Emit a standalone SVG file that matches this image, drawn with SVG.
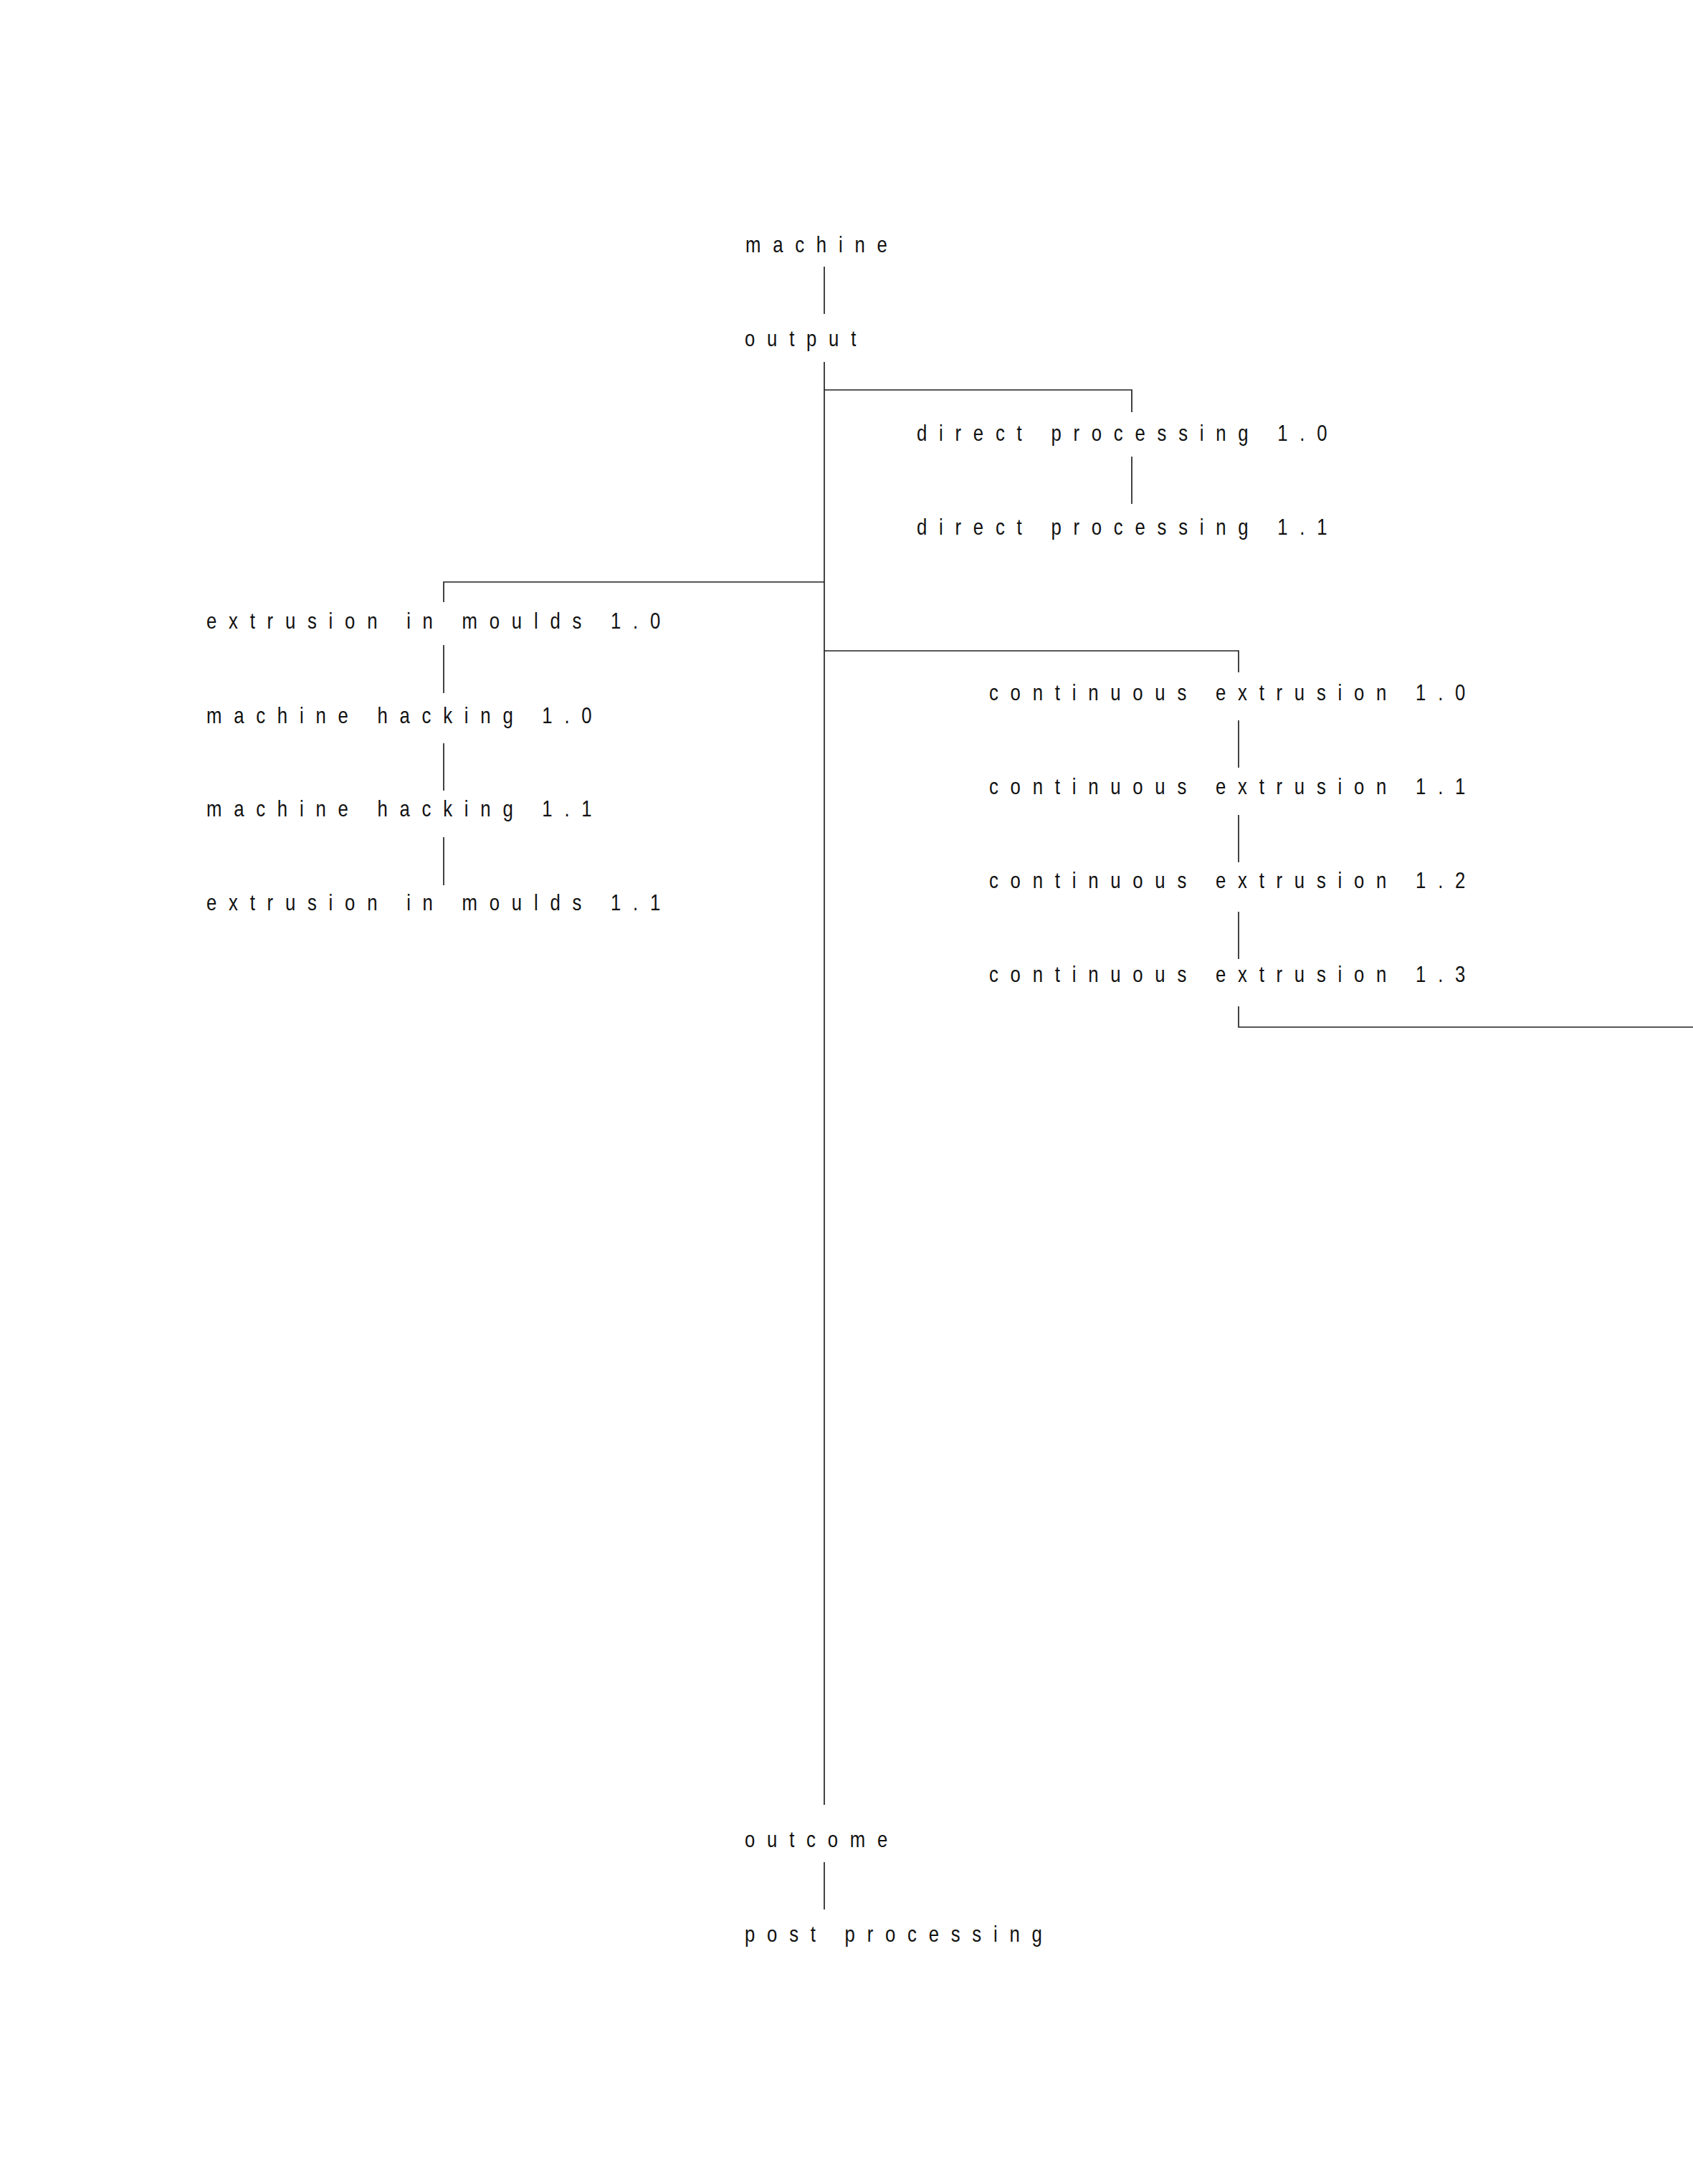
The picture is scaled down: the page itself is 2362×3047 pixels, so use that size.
<svg xmlns="http://www.w3.org/2000/svg" width="2362" height="3047" viewBox="0 0 2362 3047">
<style>
  .bg { fill: #ffffff; }
  .lbl { font-family: "Liberation Sans", Arial, sans-serif; font-size: 31px; letter-spacing: 20.2px; fill: #111111; }
  .edge { fill: none; stroke: #222222; stroke-width: 1.7; }
</style>
<rect class="bg" x="0" y="0" width="2362" height="3047"/>
<g id="connectors">
  <path class="edge" d="M1150 372 V438"/>
  <path class="edge" d="M1150 505 V2518"/>
  <path class="edge" d="M1150 544 H1579 V575"/>
  <path class="edge" d="M1579 637 V703"/>
  <path class="edge" d="M1150 812 H619 V840"/>
  <path class="edge" d="M619 900 V967"/>
  <path class="edge" d="M619 1037 V1103"/>
  <path class="edge" d="M619 1168 V1235"/>
  <path class="edge" d="M1150 908 H1728 V938"/>
  <path class="edge" d="M1728 1005 V1071"/>
  <path class="edge" d="M1728 1137 V1203"/>
  <path class="edge" d="M1728 1272 V1338"/>
  <path class="edge" d="M1728 1404 V1433 H2362"/>
  <path class="edge" d="M1150 2598 V2664"/>
</g>
<g id="node-machine"><text class="lbl" transform="translate(1040 352) scale(0.83 1)">machine</text></g>
<g id="node-output"><text class="lbl" transform="translate(1039 483) scale(0.83 1)">output</text></g>
<g id="node-direct-processing-1-0"><text class="lbl" transform="translate(1279 615) scale(0.83 1)">direct processing 1.0</text></g>
<g id="node-direct-processing-1-1"><text class="lbl" transform="translate(1279 746) scale(0.83 1)">direct processing 1.1</text></g>
<g id="node-extrusion-in-moulds-1-0"><text class="lbl" transform="translate(288 877) scale(0.83 1)">extrusion in moulds 1.0</text></g>
<g id="node-machine-hacking-1-0"><text class="lbl" transform="translate(288 1009) scale(0.83 1)">machine hacking 1.0</text></g>
<g id="node-machine-hacking-1-1"><text class="lbl" transform="translate(288 1139) scale(0.83 1)">machine hacking 1.1</text></g>
<g id="node-extrusion-in-moulds-1-1"><text class="lbl" transform="translate(288 1270) scale(0.83 1)">extrusion in moulds 1.1</text></g>
<g id="node-continuous-extrusion-1-0"><text class="lbl" transform="translate(1380 977) scale(0.83 1)">continuous extrusion 1.0</text></g>
<g id="node-continuous-extrusion-1-1"><text class="lbl" transform="translate(1380 1108) scale(0.83 1)">continuous extrusion 1.1</text></g>
<g id="node-continuous-extrusion-1-2"><text class="lbl" transform="translate(1380 1239) scale(0.83 1)">continuous extrusion 1.2</text></g>
<g id="node-continuous-extrusion-1-3"><text class="lbl" transform="translate(1380 1370) scale(0.83 1)">continuous extrusion 1.3</text></g>
<g id="node-outcome"><text class="lbl" transform="translate(1039 2577) scale(0.83 1)">outcome</text></g>
<g id="node-post-processing"><text class="lbl" transform="translate(1039 2709) scale(0.83 1)">post processing</text></g>
</svg>
